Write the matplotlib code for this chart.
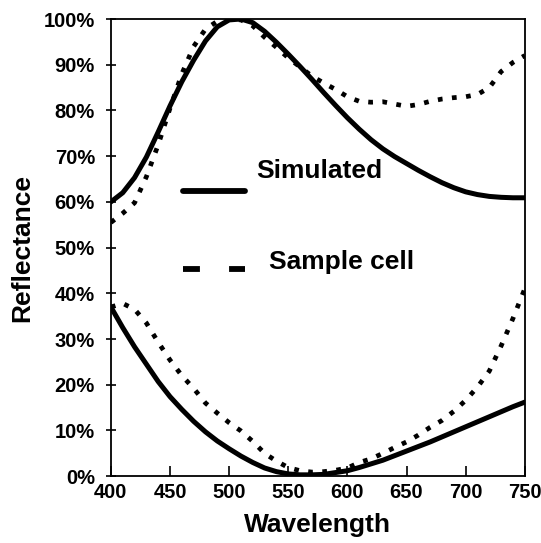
import matplotlib
matplotlib.use('Agg')
import matplotlib.pyplot as plt
from matplotlib.lines import Line2D
from matplotlib.ticker import FuncFormatter

plt.rcParams['font.family'] = ['Liberation Sans', 'DejaVu Sans']
plt.rcParams['font.weight'] = 'bold'

# wavelength grid (nm)
wl = [400, 410, 420, 430, 440, 450, 460, 470, 480, 490, 500, 510, 520, 530, 540, 550,
      560, 570, 580, 590, 600, 610, 620, 630, 640, 650, 660, 670, 680, 690, 700,
      710, 720, 730, 740, 750]

# upper curves (%)
sim_high = [60, 62, 65.3, 69.8, 75.3, 81, 86.3, 91, 95.2, 98.3, 99.8, 100, 99.2, 97.3, 94.9, 92.3,
            89.6, 86.8, 83.9, 81.1, 78.4, 75.9, 73.6, 71.6, 69.9, 68.4, 66.9, 65.5, 64.2, 63.1, 62.2,
            61.6, 61.2, 61, 60.9, 60.9]
cell_high = [55.5, 57.5, 59.8, 65.5, 72.5, 80.5, 88, 94, 97.8, 99.5, 100, 99.8, 98.5, 96, 93.8, 91.5,
             89.5, 87.5, 86, 84.6, 83, 82, 81.8, 81.9, 81.4, 80.9, 81.3, 82, 82.5, 82.8, 83,
             83.5, 85, 88.5, 90.5, 92]

# lower curves (%)
sim_low = [37, 32.5, 28.3, 24.5, 20.7, 17.4, 14.6, 12, 9.7, 7.7, 6, 4.4, 3, 1.8, 1, 0.5,
           0.3, 0.3, 0.4, 0.8, 1.2, 1.9, 2.7, 3.5, 4.5, 5.5, 6.5, 7.5, 8.6, 9.7, 10.8,
           11.9, 13, 14.1, 15.2, 16.2]
cell_low = [37, 37.8, 36.5, 33.5, 29.3, 25.4, 22, 19.2, 16, 13.8, 11.7, 9.9, 7.6, 5, 3.3, 1.9,
            1.2, 0.9, 1, 1.3, 1.8, 3, 3.8, 5, 6.3, 7.5, 9, 10.7, 12.2, 14.2, 16.6,
            19.5, 23, 28.5, 34.5, 41]

fig = plt.figure(figsize=(5.41, 5.43), dpi=100)
ax = fig.add_axes([0.205, 0.123, 0.765, 0.842])

dot = (0, (1, 2))
for y in (sim_high, sim_low):
    ax.plot(wl, y, color='black', lw=3.6, solid_capstyle='round', solid_joinstyle='round')
for y in (cell_high, cell_low):
    ax.plot(wl, y, color='black', lw=3.4, linestyle=dot)

ax.set_xlim(400, 750)
ax.set_ylim(0, 100)
ax.set_xticks(range(400, 751, 50))
ax.set_yticks(range(0, 101, 10))
ax.yaxis.set_major_formatter(FuncFormatter(lambda v, p: f'{int(v)}%'))

for s in ax.spines.values():
    s.set_linewidth(1.3)
ax.tick_params(axis='y', direction='inout', length=7, width=1.2, labelsize=14.5, pad=8)
ax.tick_params(axis='x', direction='in', length=7, width=1.2, labelsize=14.5, pad=5)

ax.set_xlabel('Wavelength', fontsize=19, fontweight='bold', labelpad=8)
ax.set_ylabel('Reflectance', fontsize=19, fontweight='bold', labelpad=7)

# legend entries placed inside the plot
h_sim = Line2D([], [], color='black', lw=4.2, solid_capstyle='round')
h_cell = Line2D([], [], color='black', lw=4.2, linestyle=(0, (2.9, 5.0)))
leg1 = ax.legend([h_sim], ['Simulated'], loc='center left', bbox_to_anchor=(0.175, 0.619),
                 frameon=False, borderpad=0, borderaxespad=0, handlelength=2.35,
                 handletextpad=0.42, prop={'size': 19, 'weight': 'bold'})
ax.add_artist(leg1)
leg2 = ax.legend([h_cell], ['Sample cell'], loc='center left', bbox_to_anchor=(0.175, 0.449),
                 frameon=False, borderpad=0, borderaxespad=0, handlelength=2.35,
                 handletextpad=0.9, prop={'size': 19, 'weight': 'bold'})
leg1.get_texts()[0].set_y(22)
leg2.get_texts()[0].set_y(9)

fig.savefig('out.png', dpi=100)
